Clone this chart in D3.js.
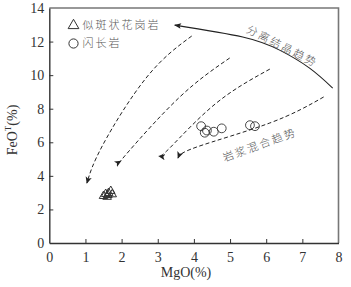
<!DOCTYPE html>
<html><head><meta charset="utf-8">
<script src="https://cdn.jsdelivr.net/npm/d3@7"></script>
<style>body{margin:0;background:#fff}svg{display:block}</style>
</head><body>
<svg id="c" width="351" height="287"></svg>
<script>
const xTicks = [0,1,2,3,4,5,6,7,8];
const yTicks = [0,2,4,6,8,10,12,14];
const granite = [[1.50,2.80],[1.56,2.92],[1.60,2.75],[1.64,2.98],[1.70,3.10],[1.74,2.90],[1.62,2.86]];
const diorite = [[4.20,6.96],[4.30,6.57],[4.36,6.70],[4.55,6.63],[4.77,6.83],[5.55,7.02],[5.69,6.96]];
const dash1 = [[3.94,12.33],[2.70,9.89],[1.48,5.84],[1.04,3.57]];
const dash2 = [[4.99,11.02],[3.61,8.70],[2.23,5.54],[1.98,4.88]];
const dash3 = [[6.10,10.36],[4.60,8.30],[3.36,5.72],[3.03,5.18]];
const dash4 = [[7.59,8.70],[6.10,7.15],[4.08,5.72],[3.56,5.06]];
const fracCurve = [[7.84,9.23],[7.20,10.42],[6.37,11.49],[5.35,12.27],[3.47,12.98]];
const legendNames = ["似斑状花岗岩","闪长岩"];
const trendLabels = ["分离结晶趋势","岩浆混合趋势"];

const svg = d3.select("#c");
const x = d3.scaleLinear().domain([0,8]).range([49.3,338.5]);
const y = d3.scaleLinear().domain([0,14]).range([243,8]);

const defs = svg.append("defs");
defs.append("marker").attr("id","ah").attr("viewBox","0 0 10 10").attr("refX",9).attr("refY",5)
  .attr("markerWidth",7).attr("markerHeight",7).attr("orient","auto").attr("markerUnits","userSpaceOnUse")
  .append("path").attr("d","M0,0.5 L10,5 L0,9.5 L2.5,5 Z").attr("fill","#222");
defs.append("marker").attr("id","ah2").attr("viewBox","0 0 10 10").attr("refX",9).attr("refY",5)
  .attr("markerWidth",9).attr("markerHeight",7).attr("orient","auto").attr("markerUnits","userSpaceOnUse")
  .append("path").attr("d","M0,1 L10,5 L0,9 L2,5 Z").attr("fill","#222");

// frame (top/right)
svg.append("path").attr("d",`M${x(0)},${y(14)} H${x(8)} V${y(0)}`).attr("fill","none")
  .attr("stroke","#777").attr("stroke-width",1.6);

// axes
const xa = svg.append("g").attr("transform",`translate(0,${y(0)})`)
  .call(d3.axisBottom(x).tickValues(xTicks).tickSizeInner(-4).tickSizeOuter(0).tickPadding(9));
const ya = svg.append("g").attr("transform",`translate(${x(0)},0)`)
  .call(d3.axisLeft(y).tickValues(yTicks).tickSizeInner(-4).tickSizeOuter(0).tickPadding(5));
[xa,ya].forEach(g=>{
  g.select(".domain").attr("stroke","#333").attr("stroke-width",1.4);
  g.selectAll(".tick line").attr("stroke","#333");
  g.selectAll(".tick text").attr("font-family","Liberation Serif").attr("font-size",14).attr("fill","#333");
});
xa.selectAll(".tick").filter(d=>d===0||d===8).select("line").remove();
ya.selectAll(".tick").filter(d=>d===0||d===14).select("line").remove();

// axis titles
svg.append("text").attr("x",186).attr("y",277).attr("text-anchor","middle")
  .attr("font-family","Liberation Serif").attr("font-size",14).attr("fill","#333").text("MgO(%)");
const yt = svg.append("text").attr("transform","translate(17,130) rotate(-90)").attr("text-anchor","middle")
  .attr("font-family","Liberation Serif").attr("font-size",14).attr("fill","#333");
yt.append("tspan").text("FeO");
yt.append("tspan").attr("font-size",9).attr("dy",-6).text("T");
yt.append("tspan").attr("dy",6).text("(%)");

// curves
const line = d3.line().x(d=>x(d[0])).y(d=>y(d[1])).curve(d3.curveNatural);
[dash1,dash2,dash3,dash4].forEach(pts=>{
  svg.append("path").attr("d",line(pts)).attr("fill","none").attr("stroke","#222")
    .attr("stroke-width",1).attr("stroke-dasharray","4,2.5").attr("marker-end","url(#ah)");
});
svg.append("path").attr("d",line(fracCurve)).attr("fill","none").attr("stroke","#222")
  .attr("stroke-width",1.1).attr("marker-end","url(#ah2)");

// points
const tri = d3.symbol().type(d3.symbolTriangle).size(32);
svg.append("g").selectAll("path").data(granite).join("path")
  .attr("d",tri).attr("transform",d=>`translate(${x(d[0])},${y(d[1])})`)
  .attr("fill","none").attr("stroke","#333").attr("stroke-width",1);
svg.append("g").selectAll("circle").data(diorite).join("circle")
  .attr("cx",d=>x(d[0])).attr("cy",d=>y(d[1])).attr("r",4.4)
  .attr("fill","none").attr("stroke","#333").attr("stroke-width",0.9);

// legend
svg.append("path").attr("d",d3.symbol().type(d3.symbolTriangle).size(50)).attr("transform","translate(73.5,25.5)")
  .attr("fill","none").attr("stroke","#333").attr("stroke-width",1);
svg.append("circle").attr("cx",73.5).attr("cy",43.5).attr("r",4.6).attr("fill","none").attr("stroke","#333").attr("stroke-width",1);
legendNames.forEach((t,i)=>{
  svg.append("text").attr("x",82.5).attr("y",25.5+i*18).attr("dy","0.36em")
    .attr("font-family","Noto Sans CJK SC").attr("font-weight",300).attr("font-size",11).attr("letter-spacing",2)
    .attr("fill","#555").text(t);
});

// trend labels
const lblPos = [[6.44,11.73,27],[5.82,5.85,-20]];
trendLabels.forEach((t,i)=>{
  const p = lblPos[i];
  svg.append("text").attr("transform",`translate(${x(p[0])},${y(p[1])}) rotate(${p[2]})`)
    .attr("text-anchor","middle").attr("dy","0.36em")
    .attr("font-family","Noto Sans CJK SC").attr("font-weight",300).attr("font-size",11).attr("letter-spacing",2)
    .attr("fill","#555").text(t);
});
</script>
</body></html>
